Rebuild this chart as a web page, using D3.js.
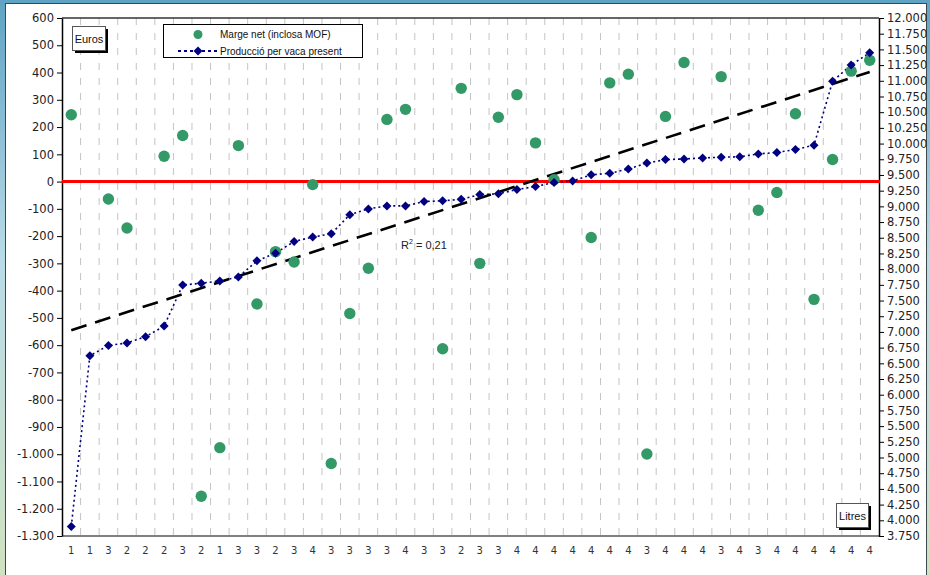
<!DOCTYPE html>
<html>
<head>
<meta charset="utf-8">
<script src="https://cdn.jsdelivr.net/npm/d3@7"></script>
<style>
  html, body { margin: 0; padding: 0; }
  body { width: 930px; height: 575px; overflow: hidden; }
  text { font-family: "DejaVu Sans", sans-serif; }
</style>
</head>
<body>
<svg id="chart" width="930" height="575"></svg>
<script>
// ---- data ----
const categories = ["1","1","3","2","2","2","3","2","1","3","3","2","3","4","3","3","3","3","4","3","3","2","3",
                    "3","4","4","4","4","4","4","4","3","4","4","4","3","4","3","4","4","4","4","4","4"];
const margeNet = [245,null,-64,-170,null,93,169,-1154,-976,132,-449,-257,-295,-11,-1034,-484,-318,228,265,null,
                  -613,342,-300,236,319,142,7,null,-205,362,394,-999,239,437,null,385,null,-105,-40,249,-432,81,405,445];
const produccio = [3900,6621,6784,6825,6924,7093,7747,7776,7811,7875,8132,8254,8441,8511,8563,8867,8960,9007,9007,9077,
                   9089,9112,9188,9199,9269,9316,9380,9404,9503,9526,9596,9689,9745,9755,9771,9783,9789,9835,9859,9905,
                   9975,10991,11253,11446];
const trendEuros = [-545, 402];          // trendline value at first and last category
const leftTicks = d3.range(-1300, 601, 100);
const rightTicks = d3.range(3750, 12001, 250);
const seriesNames = ["Marge net (inclosa MOF)", "Producció per vaca present"];
const r2Label = "0,21";

// ---- layout ----
const svg = d3.select("#chart");
const L = 62, R = 879, T = 18, B = 536;

const defs = svg.append("defs");
const bg = defs.append("linearGradient").attr("id","bg").attr("x1",0).attr("y1",0).attr("x2",0).attr("y2",1);
bg.append("stop").attr("offset","0%").attr("stop-color","#5fa3c4");
bg.append("stop").attr("offset","45%").attr("stop-color","#b9dbe8");
bg.append("stop").attr("offset","100%").attr("stop-color","#cfe2c0");
svg.append("rect").attr("width",930).attr("height",575).attr("fill","url(#bg)");
svg.append("rect").attr("x",5.5).attr("y",3.5).attr("width",921).attr("height",575)
   .attr("fill","#fff").attr("stroke","#3c4a50").attr("stroke-width",1);

const locale = d3.formatLocale({decimal: ",", thousands: ".", grouping: [3], currency: ["", ""], minus: "-"});
const fmt = locale.format(",");

const x = d3.scaleBand().domain(d3.range(categories.length)).range([L, R]).padding(0);
const cx = i => x(i) + x.bandwidth() / 2;
const yL = d3.scaleLinear().domain([-1300, 600]).range([B, T]);
const yR = d3.scaleLinear().domain([3750, 12000]).range([B, T]);

// vertical dashed gridlines at category boundaries
svg.append("g").selectAll("line").data(d3.range(1, categories.length)).join("line")
  .attr("x1", i => x(i)).attr("x2", i => x(i)).attr("y1", T).attr("y2", B)
  .attr("stroke", "#c4c4c4").attr("stroke-width", 1).attr("stroke-dasharray", "7,8");

// plot frame
svg.append("line").attr("x1",L).attr("x2",R).attr("y1",T).attr("y2",T).attr("stroke","#333").attr("stroke-width",1.5);
svg.append("line").attr("x1",L).attr("x2",R).attr("y1",B).attr("y2",B).attr("stroke","#808080").attr("stroke-width",2);

// axes
const ga = svg.append("g").attr("transform",`translate(${L},0)`)
  .call(d3.axisLeft(yL).tickValues(leftTicks).tickFormat(fmt).tickSize(5).tickSizeOuter(0));
const gr = svg.append("g").attr("transform",`translate(${R},0)`)
  .call(d3.axisRight(yR).tickValues(rightTicks).tickFormat(fmt).tickSize(5).tickSizeOuter(0));
[ga, gr].forEach(g => {
  g.select(".domain").attr("stroke","#000").attr("stroke-width",1.5);
  g.selectAll(".tick line").attr("stroke","#000");
  g.selectAll(".tick text").attr("font-size","11.5px").attr("fill","#222").style("font-family","DejaVu Sans");
});
const gb = svg.append("g").attr("transform",`translate(0,${B})`)
  .call(d3.axisBottom(x).tickFormat(i => categories[i]).tickSize(0).tickPadding(11));
gb.select(".domain").remove();
gb.selectAll(".tick text").attr("font-size","10px").attr("fill","#333");

// zero line
svg.append("line").attr("x1",L).attr("x2",R+1).attr("y1",yL(0)).attr("y2",yL(0))
  .attr("stroke","#ff0000").attr("stroke-width",3);

// production line (secondary axis)
const line = d3.line().x((d,i) => cx(i)).y(d => yR(d));
svg.append("path").datum(produccio).attr("d", line).attr("fill","none")
  .attr("stroke","#000080").attr("stroke-width",1.6).attr("stroke-dasharray","2,3");

// trendline
svg.append("line")
  .attr("x1", cx(0)).attr("y1", yL(trendEuros[0]))
  .attr("x2", cx(categories.length - 1)).attr("y2", yL(trendEuros[1]))
  .attr("stroke","#000").attr("stroke-width",2.6).attr("stroke-dasharray","16,9");

const diamond = s => `M0,${-s}L${s},0L0,${s}L${-s},0Z`;
// green markers
svg.append("g").selectAll("circle").data(margeNet.map((v,i)=>({v,i})).filter(d => d.v !== null)).join("circle")
  .attr("cx", d => cx(d.i)).attr("cy", d => yL(d.v)).attr("r", 5.7).attr("fill","#339966");
// diamonds
svg.append("g").selectAll("path").data(produccio).join("path")
  .attr("transform", (d,i) => `translate(${cx(i)},${yR(d)})`).attr("d", diamond(4.5)).attr("fill","#000080");

// R² label
const rt = svg.append("text").attr("x", 401).attr("y", 249).attr("font-size","11px")
  .style("font-family","Liberation Sans, Arial, sans-serif").attr("fill","#222");
rt.append("tspan").text("R");
rt.append("tspan").text("2").attr("font-size","7px").attr("dy", -5);
rt.append("tspan").text(" = " + r2Label).attr("dy", 5);

// legend
const lg = svg.append("g");
lg.append("rect").attr("x",163.5).attr("y",24.5).attr("width",199).attr("height",33)
  .attr("fill","#fff").attr("stroke","#000").attr("stroke-width",1);
lg.append("circle").attr("cx",198).attr("cy",34.5).attr("r",4.5).attr("fill","#339966");
lg.append("line").attr("x1",178).attr("x2",217).attr("y1",51).attr("y2",51)
  .attr("stroke","#000080").attr("stroke-width",2).attr("stroke-dasharray","3,3");
lg.append("path").attr("transform","translate(198,51)").attr("d", diamond(4.5)).attr("fill","#000080");
lg.selectAll("text.lt").data(seriesNames).join("text").attr("class","lt")
  .attr("x", 220).attr("y", (d,i) => i === 0 ? 38 : 55)
  .attr("font-size","10px").style("font-family","Liberation Sans, Arial, sans-serif").attr("fill","#111")
  .text(d => d);

// unit boxes
function unitBox(x0, y0, w, h, label) {
  const g = svg.append("g");
  g.append("rect").attr("x", x0 + 3).attr("y", y0 + 3).attr("width", w).attr("height", h).attr("fill","#000");
  g.append("rect").attr("x", x0 + 0.5).attr("y", y0 + 0.5).attr("width", w).attr("height", h)
    .attr("fill","#fff").attr("stroke","#555").attr("stroke-width",1);
  g.append("text").attr("x", x0 + w/2 + 0.5).attr("y", y0 + h/2 + 4.5).attr("text-anchor","middle")
    .attr("font-size","11px").style("font-family","Liberation Sans, Arial, sans-serif").attr("fill","#111").text(label);
}
unitBox(72, 26, 33, 24, "Euros");
unitBox(836, 503, 32, 24, "Litres");
</script>
</body>
</html>
